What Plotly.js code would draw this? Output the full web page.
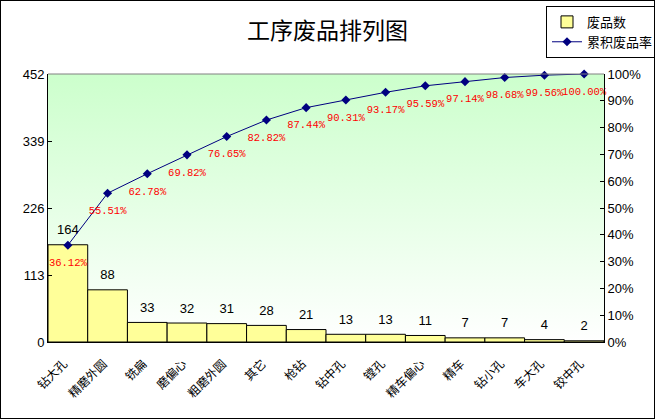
<!DOCTYPE html>
<html>
<head>
<meta charset="utf-8">
<script src="https://cdn.plot.ly/plotly-3.0.1.min.js"></script>
<style>
  body { margin: 0; background: #fff; }
  #chart { width: 653px; height: 417px; border: 1px solid #000; }
</style>
</head>
<body>
<div id="chart"></div>
<script>
// 工序名称 and 废品数
var processes = ["钻大孔", "精磨外圆", "铣扁", "磨偏心", "粗磨外圆", "其它", "枪钻",
                 "钻中孔", "镗孔", "精车偏心", "精车", "钻小孔", "车大孔", "铰中孔"];
var scrapCounts = [164, 88, 33, 32, 31, 28, 21, 13, 13, 11, 7, 7, 4, 2];
var leftTicks = [0, 113, 226, 339, 452];

var total = scrapCounts.reduce(function (a, b) { return a + b; }, 0);
var cumRate = [];
var running = 0;
for (var i = 0; i < scrapCounts.length; i++) {
  running += scrapCounts[i];
  cumRate.push(running / total);
}
var cumLabels = cumRate.map(function (r) { return (r * 100).toFixed(2) + "%"; });

// background gradient for plot area
var bgSvg = '<svg xmlns="http://www.w3.org/2000/svg" width="100" height="100" preserveAspectRatio="none">' +
  '<defs><linearGradient id="g" x1="0" y1="0" x2="0" y2="1">' +
  '<stop offset="0" stop-color="#ccffcc"/><stop offset="1" stop-color="#ffffff"/>' +
  '</linearGradient></defs><rect width="100" height="100" fill="url(#g)"/></svg>';

var bars = {
  type: "bar",
  name: "废品数",
  x: processes,
  y: scrapCounts,
  marker: { color: "#ffff99", line: { color: "#000", width: 1 } },
  hoverinfo: "x+y"
};

// bar value labels (invisible markers only set the text offset)
var barLabels = {
  type: "scatter",
  mode: "markers+text",
  x: processes,
  y: scrapCounts,
  text: scrapCounts.map(String),
  textposition: "top center",
  cliponaxis: false,
  showlegend: false,
  hoverinfo: "skip",
  marker: { size: 10, opacity: 0 },
  textfont: { family: "Liberation Sans, Arial", size: 13, color: "#000" }
};

var line = {
  type: "scatter",
  mode: "lines+markers",
  name: "累积废品率",
  x: processes,
  y: cumRate,
  yaxis: "y2",
  cliponaxis: false,
  line: { color: "#000080", width: 1 },
  marker: { symbol: "diamond", size: 7, color: "#000080" }
};

var rateLabels = {
  type: "scatter",
  mode: "markers+text",
  x: processes,
  y: cumRate,
  yaxis: "y2",
  text: cumLabels,
  textposition: "bottom center",
  cliponaxis: false,
  showlegend: false,
  hoverinfo: "skip",
  marker: { size: 19, opacity: 0 },
  textfont: { family: "Liberation Mono, monospace", size: 10.5, color: "#ff0000" }
};

var layout = {
  width: 653,
  height: 417,
  margin: { l: 47, r: 50, t: 73, b: 76, autoexpand: false },
  paper_bgcolor: "#fff",
  plot_bgcolor: "#fff",
  bargap: 0,
  showlegend: true,
  font: { family: "Liberation Sans, Arial", size: 12, color: "#000" },
  title: {
    text: "工序废品排列图",
    font: { family: "Noto Sans CJK SC", size: 23, color: "#000" },
    x: 0.5, xanchor: "center",
    y: 0.927, yanchor: "middle"
  },
  legend: {
    x: 0.8957, xanchor: "left",
    y: 1.254, yanchor: "top",
    bgcolor: "#fff",
    bordercolor: "#000",
    borderwidth: 1,
    font: { family: "Noto Sans CJK SC", size: 13, color: "#000" },
    tracegroupgap: 0
  },
  xaxis: {
    type: "category",
    range: [-0.5, processes.length - 0.5],
    automargin: false,
    showline: true, linecolor: "#000", linewidth: 1,
    showgrid: false, zeroline: false,
    ticks: "",
    tickangle: -45,
    ticklabelstandoff: 9,
    ticklabelshift: -4,
    tickfont: { family: "Noto Sans CJK SC", size: 12, color: "#000" }
  },
  yaxis: {
    automargin: false,
    range: [0, 452],
    tickvals: leftTicks,
    ticktext: leftTicks.map(String),
    showline: true, linecolor: "#000", linewidth: 1,
    showgrid: false, zeroline: false,
    ticks: "inside", ticklen: 4, tickcolor: "#000",
    tickfont: { family: "Liberation Sans, Arial", size: 13, color: "#000" }
  },
  yaxis2: {
    automargin: false,
    overlaying: "y",
    side: "right",
    range: [0, 1],
    dtick: 0.1,
    tickformat: ".0%",
    showline: true, linecolor: "#000", linewidth: 1,
    showgrid: false, zeroline: false,
    ticks: "inside", ticklen: 4, tickcolor: "#000",
    tickfont: { family: "Liberation Sans, Arial", size: 13, color: "#000" }
  },
  images: [{
    source: "data:image/svg+xml;charset=utf-8," + encodeURIComponent(bgSvg),
    xref: "paper", yref: "paper",
    x: 0, y: 1, sizex: 1, sizey: 1,
    xanchor: "left", yanchor: "top",
    sizing: "stretch",
    layer: "below"
  }],
  shapes: [{
    type: "line", xref: "paper", yref: "paper",
    x0: 0, x1: 1, y0: 1, y1: 1,
    line: { color: "#808080", width: 1 }
  }]
};

Plotly.newPlot("chart", [bars, barLabels, line, rateLabels], layout,
  { displayModeBar: false, staticPlot: true });
</script>
</body>
</html>
